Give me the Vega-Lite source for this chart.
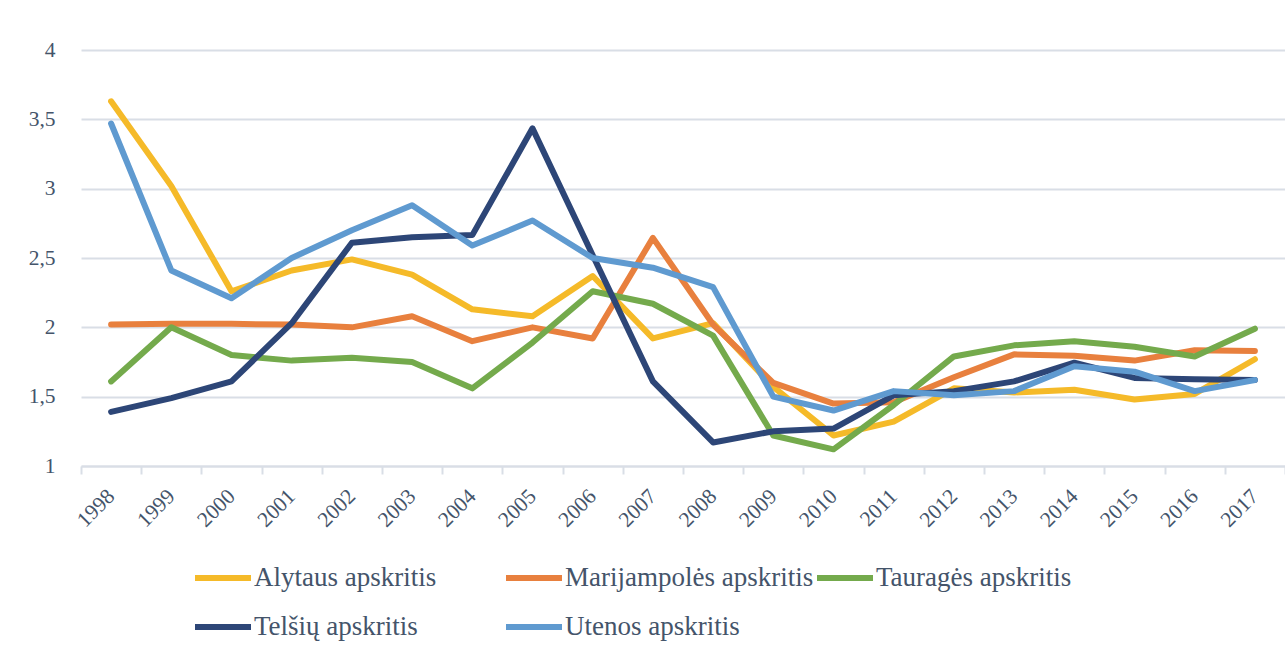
{
  "$schema": "https://vega.github.io/schema/vega-lite/v6.json",
  "width": 1204,
  "height": 416,
  "autosize": {"type": "none"},
  "padding": {"left": 81, "top": 50, "right": 0, "bottom": 191},
  "background": "white",
  "datasets": {
    "series": [
      {"year": "1998", "region": "Alytaus apskritis", "value": 3.63},
      {"year": "1999", "region": "Alytaus apskritis", "value": 3.02},
      {"year": "2000", "region": "Alytaus apskritis", "value": 2.26},
      {"year": "2001", "region": "Alytaus apskritis", "value": 2.41},
      {"year": "2002", "region": "Alytaus apskritis", "value": 2.49},
      {"year": "2003", "region": "Alytaus apskritis", "value": 2.38},
      {"year": "2004", "region": "Alytaus apskritis", "value": 2.13},
      {"year": "2005", "region": "Alytaus apskritis", "value": 2.08},
      {"year": "2006", "region": "Alytaus apskritis", "value": 2.37},
      {"year": "2007", "region": "Alytaus apskritis", "value": 1.92},
      {"year": "2008", "region": "Alytaus apskritis", "value": 2.03},
      {"year": "2009", "region": "Alytaus apskritis", "value": 1.57},
      {"year": "2010", "region": "Alytaus apskritis", "value": 1.22},
      {"year": "2011", "region": "Alytaus apskritis", "value": 1.32},
      {"year": "2012", "region": "Alytaus apskritis", "value": 1.56},
      {"year": "2013", "region": "Alytaus apskritis", "value": 1.53},
      {"year": "2014", "region": "Alytaus apskritis", "value": 1.55},
      {"year": "2015", "region": "Alytaus apskritis", "value": 1.48},
      {"year": "2016", "region": "Alytaus apskritis", "value": 1.52},
      {"year": "2017", "region": "Alytaus apskritis", "value": 1.77},
      {"year": "1998", "region": "Marijampolės apskritis", "value": 2.02},
      {"year": "1999", "region": "Marijampolės apskritis", "value": 2.025},
      {"year": "2000", "region": "Marijampolės apskritis", "value": 2.025},
      {"year": "2001", "region": "Marijampolės apskritis", "value": 2.02},
      {"year": "2002", "region": "Marijampolės apskritis", "value": 2.0},
      {"year": "2003", "region": "Marijampolės apskritis", "value": 2.08},
      {"year": "2004", "region": "Marijampolės apskritis", "value": 1.9},
      {"year": "2005", "region": "Marijampolės apskritis", "value": 2.0},
      {"year": "2006", "region": "Marijampolės apskritis", "value": 1.92},
      {"year": "2007", "region": "Marijampolės apskritis", "value": 2.645},
      {"year": "2008", "region": "Marijampolės apskritis", "value": 2.02},
      {"year": "2009", "region": "Marijampolės apskritis", "value": 1.6},
      {"year": "2010", "region": "Marijampolės apskritis", "value": 1.45},
      {"year": "2011", "region": "Marijampolės apskritis", "value": 1.46},
      {"year": "2012", "region": "Marijampolės apskritis", "value": 1.64},
      {"year": "2013", "region": "Marijampolės apskritis", "value": 1.805},
      {"year": "2014", "region": "Marijampolės apskritis", "value": 1.795},
      {"year": "2015", "region": "Marijampolės apskritis", "value": 1.76},
      {"year": "2016", "region": "Marijampolės apskritis", "value": 1.835},
      {"year": "2017", "region": "Marijampolės apskritis", "value": 1.83},
      {"year": "1998", "region": "Tauragės apskritis", "value": 1.61},
      {"year": "1999", "region": "Tauragės apskritis", "value": 2.0},
      {"year": "2000", "region": "Tauragės apskritis", "value": 1.8},
      {"year": "2001", "region": "Tauragės apskritis", "value": 1.76},
      {"year": "2002", "region": "Tauragės apskritis", "value": 1.78},
      {"year": "2003", "region": "Tauragės apskritis", "value": 1.75},
      {"year": "2004", "region": "Tauragės apskritis", "value": 1.56},
      {"year": "2005", "region": "Tauragės apskritis", "value": 1.89},
      {"year": "2006", "region": "Tauragės apskritis", "value": 2.26},
      {"year": "2007", "region": "Tauragės apskritis", "value": 2.17},
      {"year": "2008", "region": "Tauragės apskritis", "value": 1.94},
      {"year": "2009", "region": "Tauragės apskritis", "value": 1.22},
      {"year": "2010", "region": "Tauragės apskritis", "value": 1.12},
      {"year": "2011", "region": "Tauragės apskritis", "value": 1.44},
      {"year": "2012", "region": "Tauragės apskritis", "value": 1.79},
      {"year": "2013", "region": "Tauragės apskritis", "value": 1.87},
      {"year": "2014", "region": "Tauragės apskritis", "value": 1.9},
      {"year": "2015", "region": "Tauragės apskritis", "value": 1.86},
      {"year": "2016", "region": "Tauragės apskritis", "value": 1.79},
      {"year": "2017", "region": "Tauragės apskritis", "value": 1.99},
      {"year": "1998", "region": "Telšių apskritis", "value": 1.39},
      {"year": "1999", "region": "Telšių apskritis", "value": 1.49},
      {"year": "2000", "region": "Telšių apskritis", "value": 1.61},
      {"year": "2001", "region": "Telšių apskritis", "value": 2.03},
      {"year": "2002", "region": "Telšių apskritis", "value": 2.61},
      {"year": "2003", "region": "Telšių apskritis", "value": 2.65},
      {"year": "2004", "region": "Telšių apskritis", "value": 2.665},
      {"year": "2005", "region": "Telšių apskritis", "value": 3.435},
      {"year": "2006", "region": "Telšių apskritis", "value": 2.52},
      {"year": "2007", "region": "Telšių apskritis", "value": 1.61},
      {"year": "2008", "region": "Telšių apskritis", "value": 1.17},
      {"year": "2009", "region": "Telšių apskritis", "value": 1.25},
      {"year": "2010", "region": "Telšių apskritis", "value": 1.27},
      {"year": "2011", "region": "Telšių apskritis", "value": 1.51},
      {"year": "2012", "region": "Telšių apskritis", "value": 1.54},
      {"year": "2013", "region": "Telšių apskritis", "value": 1.61},
      {"year": "2014", "region": "Telšių apskritis", "value": 1.745},
      {"year": "2015", "region": "Telšių apskritis", "value": 1.635},
      {"year": "2016", "region": "Telšių apskritis", "value": 1.625},
      {"year": "2017", "region": "Telšių apskritis", "value": 1.62},
      {"year": "1998", "region": "Utenos apskritis", "value": 3.47},
      {"year": "1999", "region": "Utenos apskritis", "value": 2.41},
      {"year": "2000", "region": "Utenos apskritis", "value": 2.21},
      {"year": "2001", "region": "Utenos apskritis", "value": 2.5},
      {"year": "2002", "region": "Utenos apskritis", "value": 2.7},
      {"year": "2003", "region": "Utenos apskritis", "value": 2.88},
      {"year": "2004", "region": "Utenos apskritis", "value": 2.59},
      {"year": "2005", "region": "Utenos apskritis", "value": 2.77},
      {"year": "2006", "region": "Utenos apskritis", "value": 2.5},
      {"year": "2007", "region": "Utenos apskritis", "value": 2.43},
      {"year": "2008", "region": "Utenos apskritis", "value": 2.29},
      {"year": "2009", "region": "Utenos apskritis", "value": 1.5},
      {"year": "2010", "region": "Utenos apskritis", "value": 1.4},
      {"year": "2011", "region": "Utenos apskritis", "value": 1.54},
      {"year": "2012", "region": "Utenos apskritis", "value": 1.51},
      {"year": "2013", "region": "Utenos apskritis", "value": 1.54},
      {"year": "2014", "region": "Utenos apskritis", "value": 1.72},
      {"year": "2015", "region": "Utenos apskritis", "value": 1.68},
      {"year": "2016", "region": "Utenos apskritis", "value": 1.54},
      {"year": "2017", "region": "Utenos apskritis", "value": 1.62}
    ]
  },
  "data": {"name": "series"},
  "mark": {"type": "line", "strokeWidth": 6, "strokeCap": "round", "strokeJoin": "round"},
  "encoding": {
    "x": {
      "field": "year",
      "type": "ordinal",
      "scale": {"type": "band", "paddingInner": 0, "paddingOuter": 0},
      "axis": {
        "title": null,
        "tickBand": "extent",
        "labelAngle": -45,
        "labelAlign": "right",
        "labelBaseline": "middle",
        "labelPadding": 19,
        "tickSize": 8,
        "tickWidth": 2,
        "tickColor": "#D9DEE6",
        "domainColor": "#D9DEE6",
        "domainWidth": 2,
        "grid": false
      }
    },
    "y": {
      "field": "value",
      "type": "quantitative",
      "scale": {"domain": [1, 4], "nice": false, "zero": false},
      "axis": {
        "title": null,
        "values": [1, 1.5, 2, 2.5, 3, 3.5, 4],
        "labelExpr": "replace(format(datum.value, '~g'), '.', ',')",
        "domain": false,
        "ticks": false,
        "labelPadding": 26,
        "grid": true,
        "gridColor": "#D9DEE6",
        "gridWidth": 2
      }
    },
    "color": {
      "field": "region",
      "type": "nominal",
      "scale": {
        "domain": ["Alytaus apskritis", "Marijampolės apskritis", "Tauragės apskritis", "Telšių apskritis", "Utenos apskritis"],
        "range": ["#F5BA29", "#E8803E", "#74AA4C", "#2D4677", "#5F9AD0"]
      },
      "legend": {
        "title": null,
        "orient": "none",
        "legendX": 111,
        "legendY": 497,
        "direction": "horizontal",
        "columns": 3,
        "gridAlign": "all",
        "columnPadding": -15,
        "rowPadding": 5,
        "padding": 0,
        "symbolType": "stroke",
        "symbolSize": 3136,
        "symbolStrokeWidth": 6,
        "labelOffset": 0,
        "labelFontSize": 27,
        "labelFont": "Liberation Serif",
        "labelColor": "#44546A",
        "labelLimit": 400
      }
    }
  },
  "config": {
    "view": {"stroke": null},
    "axis": {
      "labelFont": "Liberation Serif",
      "labelFontSize": 21.5,
      "labelColor": "#44546A"
    }
  }
}
